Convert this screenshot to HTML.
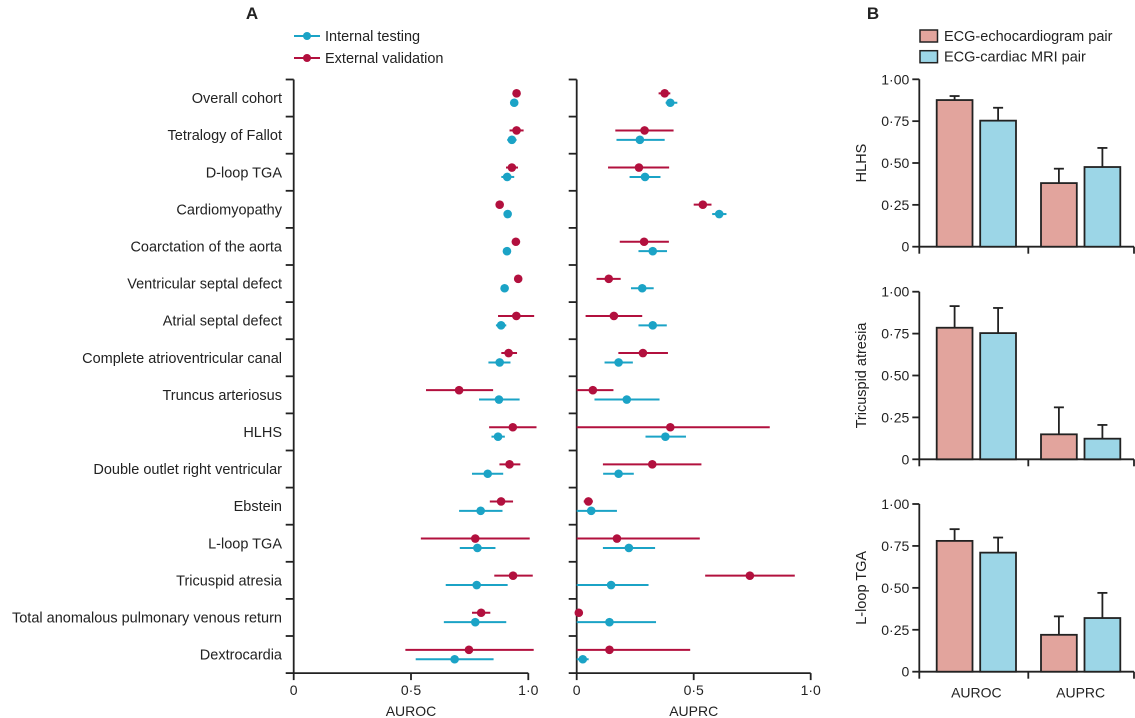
<!DOCTYPE html>
<html><head><meta charset="utf-8"><style>
html,body{margin:0;padding:0;background:#fff;}
svg{display:block;font-family:"Liberation Sans",sans-serif;}
</style></head><body>
<svg id="chart" width="1135" height="718" viewBox="0 0 1135 718" xmlns="http://www.w3.org/2000/svg"></svg>
<script>
const categories=["Overall cohort","Tetralogy of Fallot","D-loop TGA","Cardiomyopathy","Coarctation of the aorta","Ventricular septal defect","Atrial septal defect","Complete atrioventricular canal","Truncus arteriosus","HLHS","Double outlet right ventricular","Ebstein","L-loop TGA","Tricuspid atresia","Total anomalous pulmonary venous return","Dextrocardia"];
const rocExt=[0.95,0.95,0.93,0.878,0.947,0.957,0.949,0.916,0.705,0.934,0.92,0.884,0.774,0.935,0.799,0.747];
const rocExtLo=[0.95,0.92,0.905,0.878,0.93,0.957,0.871,0.885,0.564,0.833,0.877,0.836,0.542,0.855,0.76,0.476];
const rocExtHi=[0.95,0.98,0.956,0.878,0.965,0.957,1.025,0.952,0.85,1.035,0.966,0.935,1.006,1.019,0.838,1.023];
const rocInt=[0.94,0.93,0.91,0.912,0.909,0.899,0.884,0.878,0.875,0.871,0.827,0.797,0.783,0.78,0.774,0.686];
const rocIntLo=[0.94,0.91,0.885,0.912,0.909,0.89,0.862,0.83,0.79,0.843,0.76,0.705,0.708,0.648,0.64,0.52];
const rocIntHi=[0.94,0.95,0.94,0.912,0.909,0.91,0.906,0.924,0.963,0.9,0.893,0.89,0.86,0.912,0.906,0.852];
const prcExt=[0.376,0.29,0.266,0.539,0.288,0.137,0.159,0.283,0.069,0.40,0.323,0.05,0.172,0.74,0.009,0.14];
const prcExtLo=[0.35,0.165,0.134,0.50,0.184,0.085,0.038,0.178,0,0,0.112,0.03,0,0.549,0,0];
const prcExtHi=[0.40,0.414,0.395,0.576,0.394,0.188,0.28,0.39,0.157,0.825,0.533,0.069,0.526,0.932,0.009,0.485];
const prcInt=[0.40,0.27,0.292,0.609,0.325,0.28,0.325,0.179,0.214,0.379,0.179,0.062,0.223,0.147,0.14,0.026];
const prcIntLo=[0.38,0.17,0.226,0.579,0.264,0.232,0.264,0.119,0.076,0.294,0.113,0,0.112,0,0,0];
const prcIntHi=[0.43,0.376,0.358,0.64,0.386,0.329,0.385,0.24,0.354,0.467,0.244,0.172,0.335,0.307,0.339,0.051];
const xTicks=[0,0.5,1.0];
const xTickLabels=["0","0·5","1·0"];
const barGroups=["AUROC","AUPRC"];
const barPanels=["HLHS","Tricuspid atresia","L-loop TGA"];
const echoVals=[[0.876,0.38],[0.785,0.149],[0.78,0.22]];
const echoErr=[[0.90,0.466],[0.914,0.31],[0.85,0.33]];
const mriVals=[[0.753,0.476],[0.753,0.123],[0.71,0.32]];
const mriErr=[[0.83,0.59],[0.903,0.205],[0.80,0.47]];
const yTicks=[0,0.25,0.5,0.75,1.0];
const yTickLabels=["0","0·25","0·50","0·75","1·00"];

const NS="http://www.w3.org/2000/svg";
const svg=document.getElementById('chart');
function mk(tag,attrs,parent,text){const e=document.createElementNS(NS,tag);for(const k in attrs)e.setAttribute(k,attrs[k]);if(text!==undefined)e.textContent=text;(parent||svg).appendChild(e);return e;}
const RED="#b2103e",BLUE="#1ba3c6",AX="#222";
const top0=79.5,rowH=37.1,bottom=top0+rowH*16;
const rowY=i=>top0+rowH*(i+0.5);
const sx1=v=>293.7+v*234.6, sx2=v=>576.7+v*234;

let t=mk('text',{x:252,y:19,'font-size':17,'font-weight':'bold','text-anchor':'middle',fill:'#222'},svg,'A');

[[BLUE,36,'Internal testing','legend-internal-testing'],[RED,58,'External validation','legend-external-validation']].forEach(([c,y,txt,n])=>{
  const g=mk('g',{});
  
  
  mk('line',{x1:294,x2:320,y1:y,y2:y,stroke:c,'stroke-width':2},g);
  mk('circle',{cx:307,cy:y,r:4,fill:c},g);
  mk('text',{x:325,y:y+5,'font-size':14.5,fill:'#222'},g,txt);
});
categories.forEach((c,i)=>{
  const e=mk('text',{x:282,y:rowY(i)+5,'font-size':14.5,'text-anchor':'end',fill:'#222'},svg,c);
  
  
});
function axis(sx,name,title){
  const g=mk('g',{});
  
  
  mk('line',{x1:sx(0),x2:sx(0),y1:top0,y2:bottom,stroke:AX,'stroke-width':1.8},g);
  for(let i=0;i<=16;i++){const y=top0+rowH*i;mk('line',{x1:sx(0)-8,x2:sx(0),y1:y,y2:y,stroke:AX,'stroke-width':1.8},g);}
  mk('line',{x1:sx(0),x2:sx(1),y1:bottom,y2:bottom,stroke:AX,'stroke-width':1.8},g);
  xTicks.forEach((v,i)=>{mk('line',{x1:sx(v),x2:sx(v),y1:bottom,y2:bottom+7,stroke:AX,'stroke-width':1.8},g);
    mk('text',{x:sx(v),y:bottom+22,'font-size':14,'text-anchor':'middle',fill:'#222'},g,xTickLabels[i]);});
  mk('text',{x:(sx(0)+sx(1))/2,y:bottom+43,'font-size':14,'text-anchor':'middle',fill:'#222'},g,title);
}
axis(sx1,'auroc-axis','AUROC');axis(sx2,'auprc-axis','AUPRC');
function series(sx,vals,lo,hi,col,dy,name){
  vals.forEach((v,i)=>{
    const g=mk('g',{});
    
    
    const y=rowY(i)+dy;
    mk('line',{x1:sx(lo[i]),x2:sx(hi[i]),y1:y,y2:y,stroke:col,'stroke-width':2},g);
    mk('circle',{cx:sx(v),cy:y,r:4.3,fill:col},g);
  });
}
series(sx1,rocExt,rocExtLo,rocExtHi,RED,-4.7,'auroc-external-point');
series(sx1,rocInt,rocIntLo,rocIntHi,BLUE,4.7,'auroc-internal-point');
series(sx2,prcExt,prcExtLo,prcExtHi,RED,-4.7,'auprc-external-point');
series(sx2,prcInt,prcIntLo,prcIntHi,BLUE,4.7,'auprc-internal-point');

t=mk('text',{x:873,y:19,'font-size':17,'font-weight':'bold','text-anchor':'middle',fill:'#222'},svg,'B');

const PINK="#e2a49d",LBLUE="#9cd6e7";
[[PINK,30,'ECG-echocardiogram pair','legend-echo'],[LBLUE,50.7,'ECG-cardiac MRI pair','legend-mri']].forEach(([c,y,txt,n])=>{
  const g=mk('g',{});
  
  
  mk('rect',{x:920,y:y,width:17.5,height:12,fill:c,stroke:AX,'stroke-width':1.5},g);
  mk('text',{x:944,y:y+11,'font-size':14.5,fill:'#222'},g,txt);
});
const panelTop=[79.3,291.7,504],panelBot=[246.7,459.3,671.7];
const axX=919.3,groupX=[936.7,1041],bw=35.8,gap=43.5;
barPanels.forEach((p,pi)=>{
  const g=mk('g',{});
  
  
  const y0=panelBot[pi],y1=panelTop[pi],sy=v=>y0-(y0-y1)*v;
  mk('line',{x1:axX,x2:axX,y1:y1,y2:y0,stroke:AX,'stroke-width':1.8},g);
  yTicks.forEach((v,i)=>{mk('line',{x1:axX-7,x2:axX,y1:sy(v),y2:sy(v),stroke:AX,'stroke-width':1.8},g);
    mk('text',{x:axX-10,y:sy(v)+5,'font-size':14,'text-anchor':'end',fill:'#222'},g,yTickLabels[i]);});
  mk('line',{x1:axX,x2:1134,y1:y0,y2:y0,stroke:AX,'stroke-width':1.8},g);
  [axX,1028.3,1134].forEach(x=>mk('line',{x1:x,x2:x,y1:y0,y2:y0+7,stroke:AX,'stroke-width':1.8},g));
  const cy=(y0+y1)/2;
  mk('text',{x:862,y:cy,'font-size':14.5,'text-anchor':'middle',fill:'#222',transform:`rotate(-90 862 ${cy})`,'dominant-baseline':'middle'},g,p);
  barGroups.forEach((gn,gi)=>{
    [[echoVals,echoErr,PINK,0],[mriVals,mriErr,LBLUE,gap]].forEach(([vals,err,col,off])=>{
      const x=groupX[gi]+off,v=vals[pi][gi],e=err[pi][gi];
      const cx=x+bw/2;
      mk('line',{x1:cx,x2:cx,y1:sy(v),y2:sy(e),stroke:AX,'stroke-width':1.8},g);
      mk('line',{x1:cx-5,x2:cx+5,y1:sy(e),y2:sy(e),stroke:AX,'stroke-width':1.8},g);
      const r=mk('rect',{x:x,y:sy(v),width:bw,height:y0-sy(v),fill:col,stroke:AX,'stroke-width':1.8},g);
      
      
    });
    if(pi===2){mk('text',{x:groupX[gi]+(gap+bw)/2,y:y0+26,'font-size':14,'text-anchor':'middle',fill:'#222'},g,gn);}
  });
});
</script>
</body></html>
